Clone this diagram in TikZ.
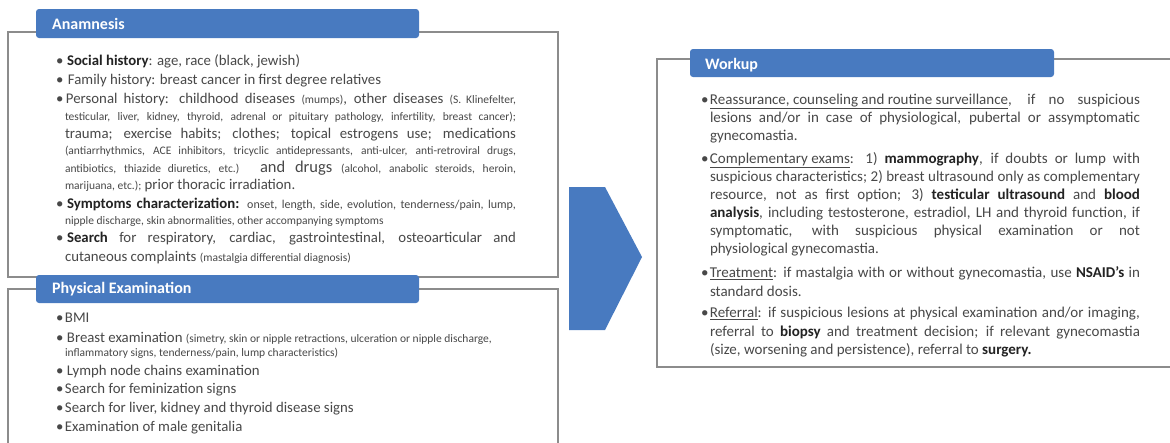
\documentclass[tikz,border=0pt]{standalone}
\usepackage{fontspec}
\setmainfont{Carlito}
\definecolor{hdrblue}{RGB}{72,122,192}
\definecolor{txtc}{RGB}{72,72,72}
\definecolor{boldc}{RGB}{35,35,35}
\definecolor{framec}{RGB}{140,140,140}
\newcommand\mainsz{\fontsize{14.8}{17}\selectfont}
\newcommand\smallsz{\fontsize{11.5}{13}\selectfont}
\newcommand\midsz{\fontsize{12}{14}\selectfont}
\newcommand\bigsz{\fontsize{16.5}{18}\selectfont}
\newcommand\worksz{\fontsize{15}{17}\selectfont}
\newcommand\hdrsz{\fontsize{16}{18}\selectfont}
\newcommand\bt[1]{\textbf{\color{boldc}#1}}
\newcommand\bul[1]{\makebox[#1][l]{•}}
\newcommand\ulin[1]{\underline{#1}}
\tikzset{
  framebox/.style={draw=framec, line width=1.6pt},
  hdrbar/.style={fill=hdrblue, rounded corners=3pt},
  chevron/.style={fill=hdrblue},
  txt/.style={anchor=base west, inner sep=0pt, outer sep=0pt, text=txtc, font=\mainsz},
  wtxt/.style={txt, font=\worksz},
  htxt/.style={anchor=base west, inner sep=0pt, text=white, font=\hdrsz\bfseries}
}
\begin{document}
\begin{tikzpicture}[x=1pt,y=-1pt]
\useasboundingbox (0,0) rectangle (1170,442);
\fill[white] (0,0) rectangle (1170,442);
% frames
\draw[framebox] (8,32) rectangle (558,277);
\draw[framebox] (8,289) rectangle (558,470);
\draw[framebox] (657,59) rectangle (1190,367);
% headers
\fill[hdrbar] (36,9) rectangle (419,38);
\node[htxt] (h1) at (52,29.5) {Anamnesis};
\fill[hdrbar] (36,275) rectangle (419,303);
\node[htxt] (h2) at (52,293.5) {Physical Examination};
\fill[hdrbar] (690,49) rectangle (1054,77);
\node[htxt] (h3) at (705,69) {Workup};
% chevron
\fill[chevron] (569,187) -- (605,187) -- (642,257) -- (605,330) -- (569,330) -- cycle;
% Anamnesis text
\node[txt] (a1) at (56,65.5) {\bul{11pt}\bt{Social history}: age, race (black, jewish)};
\node[txt] (a2) at (56,84.5) {\bul{12pt}Family history: breast cancer in first degree relatives};
\node[txt] (a3) at (56,103.5) {\hbox to 460pt{\bul{10pt}Personal history: childhood diseases {\smallsz (mumps)}, other diseases {\smallsz (S. Klinefelter,}}};
\node[txt] (a4) at (65,120.5) {\hbox to 451pt{\smallsz testicular, liver, kidney, thyroid, adrenal or pituitary pathology, infertility, breast cancer);}};
\node[txt] (a5) at (65,138.5) {\hbox to 451pt{trauma; exercise habits; clothes; topical estrogens use; medications}};
\node[txt] (a6) at (65,154) {\hbox to 451pt{\smallsz (antiarrhythmics, ACE inhibitors, tricyclic antidepressants, anti-ulcer, anti-retroviral drugs,}};
\node[txt] (a7) at (65,172.5) {\hbox to 451pt{{\smallsz antibiotics, thiazide diuretics, etc.)} {\bigsz and drugs} {\smallsz (alcohol, anabolic steroids, heroin,}}};
\node[txt] (a8) at (65,189.5) {{\smallsz marijuana, etc.);} prior thoracic irradiation.};
\node[txt] (a9) at (56,208.5) {\hbox to 460pt{\bul{11pt}\bt{Symptoms characterization:} {\midsz onset, length, side, evolution, tenderness/pain, lump,}}};
\node[txt] (a10) at (65,224.5) {\smallsz nipple discharge, skin abnormalities, other accompanying symptoms};
\node[txt] (a11) at (56,242.5) {\hbox to 460pt{\bul{11pt}\bt{Search} for respiratory, cardiac, gastrointestinal, osteoarticular and}};
\node[txt] (a12) at (65,261.5) {cutaneous complaints {\smallsz (mastalgia differential diagnosis)}};
% Physical examination text
\node[txt] (p1) at (56,322.5) {\bul{9pt}BMI};
\node[txt] (p2) at (56,342.5) {\bul{11pt}Breast examination {\smallsz (simetry, skin or nipple retractions, ulceration or nipple discharge,}};
\node[txt] (p3) at (65,356.5) {\smallsz inflammatory signs, tenderness/pain, lump characteristics)};
\node[txt] (p4) at (56,375.5) {\bul{11pt}Lymph node chains examination};
\node[txt] (p5) at (56,393.5) {\bul{9pt}Search for feminization signs};
\node[txt] (p6) at (56,412.5) {\bul{9pt}Search for liver, kidney and thyroid disease signs};
\node[txt] (p7) at (56,431.5) {\bul{9pt}Examination of male genitalia};
% Workup text
\node[wtxt] (w1) at (701,104.5) {\hbox to 439pt{\bul{9pt}\ulin{Reassurance, counseling and routine surveillance}, if no suspicious}};
\node[wtxt] (w2) at (710,122.5) {\hbox to 430pt{lesions and/or in case of physiological, pubertal or assymptomatic}};
\node[wtxt] (w3) at (710,140.5) {gynecomastia.};
\node[wtxt] (w4) at (701,163.5) {\hbox to 439pt{\bul{9pt}\ulin{Complementary exams}: 1) \bt{mammography}, if doubts or lump with}};
\node[wtxt] (w5) at (710,181.5) {\hbox to 430pt{suspicious characteristics; 2) breast ultrasound only as complementary}};
\node[wtxt] (w6) at (710,199.5) {\hbox to 430pt{resource, not as first option; 3) \bt{testicular ultrasound} and \bt{blood}}};
\node[wtxt] (w7) at (710,217.5) {\hbox to 430pt{\bt{analysis}, including testosterone, estradiol, LH and thyroid function, if}};
\node[wtxt] (w8) at (710,235.5) {\hbox to 430pt{symptomatic, with suspicious physical examination or not}};
\node[wtxt] (w9) at (710,253.5) {physiological gynecomastia.};
\node[wtxt] (w10) at (701,277.5) {\hbox to 439pt{\bul{9pt}\ulin{Treatment}: if mastalgia with or without gynecomastia, use \bt{NSAID's} in}};
\node[wtxt] (w11) at (710,296) {standard dosis.};
\node[wtxt] (w12) at (701,317.5) {\hbox to 439pt{\bul{9pt}\ulin{Referral}: if suspicious lesions at physical examination and/or imaging,}};
\node[wtxt] (w13) at (710,336) {\hbox to 430pt{referral to \bt{biopsy} and treatment decision; if relevant gynecomastia}};
\node[wtxt] (w14) at (710,354) {(size, worsening and persistence), referral to \bt{surgery.}};
\end{tikzpicture}
\end{document}
